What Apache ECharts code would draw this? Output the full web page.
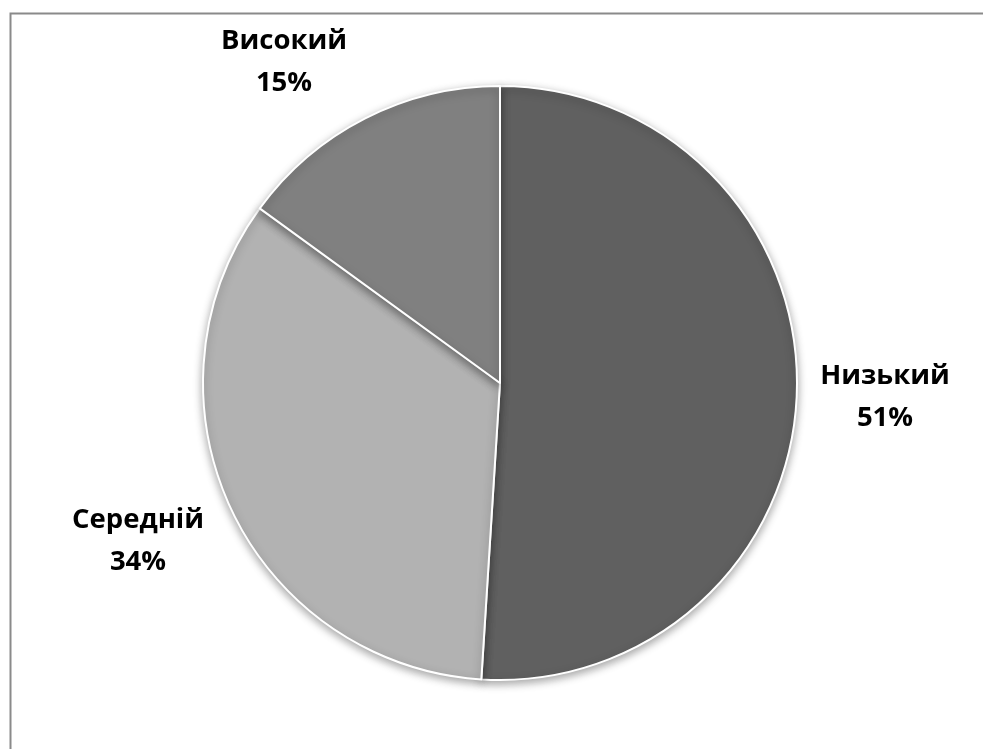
<!DOCTYPE html>
<html>
<head>
<meta charset="utf-8">
<script src="https://cdn.jsdelivr.net/npm/echarts@6/dist/echarts.min.js"></script>
<style>
  html, body { margin: 0; padding: 0; background: #fff; }
  #chart { width: 983px; height: 749px; }
</style>
</head>
<body>
<div id="chart"></div>
<script>
// Share of respondents by level
const categories = ['Низький', 'Середній', 'Високий'];
const shares = [51, 34, 15];
const sliceColors = ['#606060', '#b2b2b2', '#808080'];

// label anchor points (canvas pixels), one per slice
const labelSpots = [[885, 397], [138, 541], [284, 62]];

const chart = echarts.init(document.getElementById('chart'));
chart.setOption({
  backgroundColor: '#ffffff',
  animation: false,
  graphic: [{
    type: 'rect',
    left: 8, top: 11,
    shape: { width: 1000, height: 800 },
    style: { fill: 'none', stroke: '#8a8a8a', lineWidth: 2 }
  }],
  series: [{
    type: 'pie',
    center: [500, 383],
    radius: [0, 297],
    startAngle: 90,
    clockwise: true,
    data: categories.map((name, i) => ({
      name,
      value: shares[i],
      itemStyle: { color: sliceColors[i] }
    })),
    itemStyle: {
      borderColor: '#ffffff',
      borderWidth: 2,
      shadowBlur: 8,
      shadowOffsetY: 3,
      shadowColor: 'rgba(0,0,0,0.35)'
    },
    label: {
      show: true,
      position: 'outside',
      alignTo: 'none',
      overflow: 'none',
      formatter: p => p.name + '\n' + p.value + '%',
      fontFamily: 'Open Sans',
      fontWeight: 'bold',
      fontSize: 27.5,
      lineHeight: 42,
      color: '#000',
      align: 'center'
    },
    labelLine: { show: false },
    labelLayout: p => ({
      x: labelSpots[p.dataIndex][0],
      y: labelSpots[p.dataIndex][1],
      align: 'center',
      verticalAlign: 'middle'
    }),
    emphasis: { disabled: true }
  }]
});
</script>
</body>
</html>
